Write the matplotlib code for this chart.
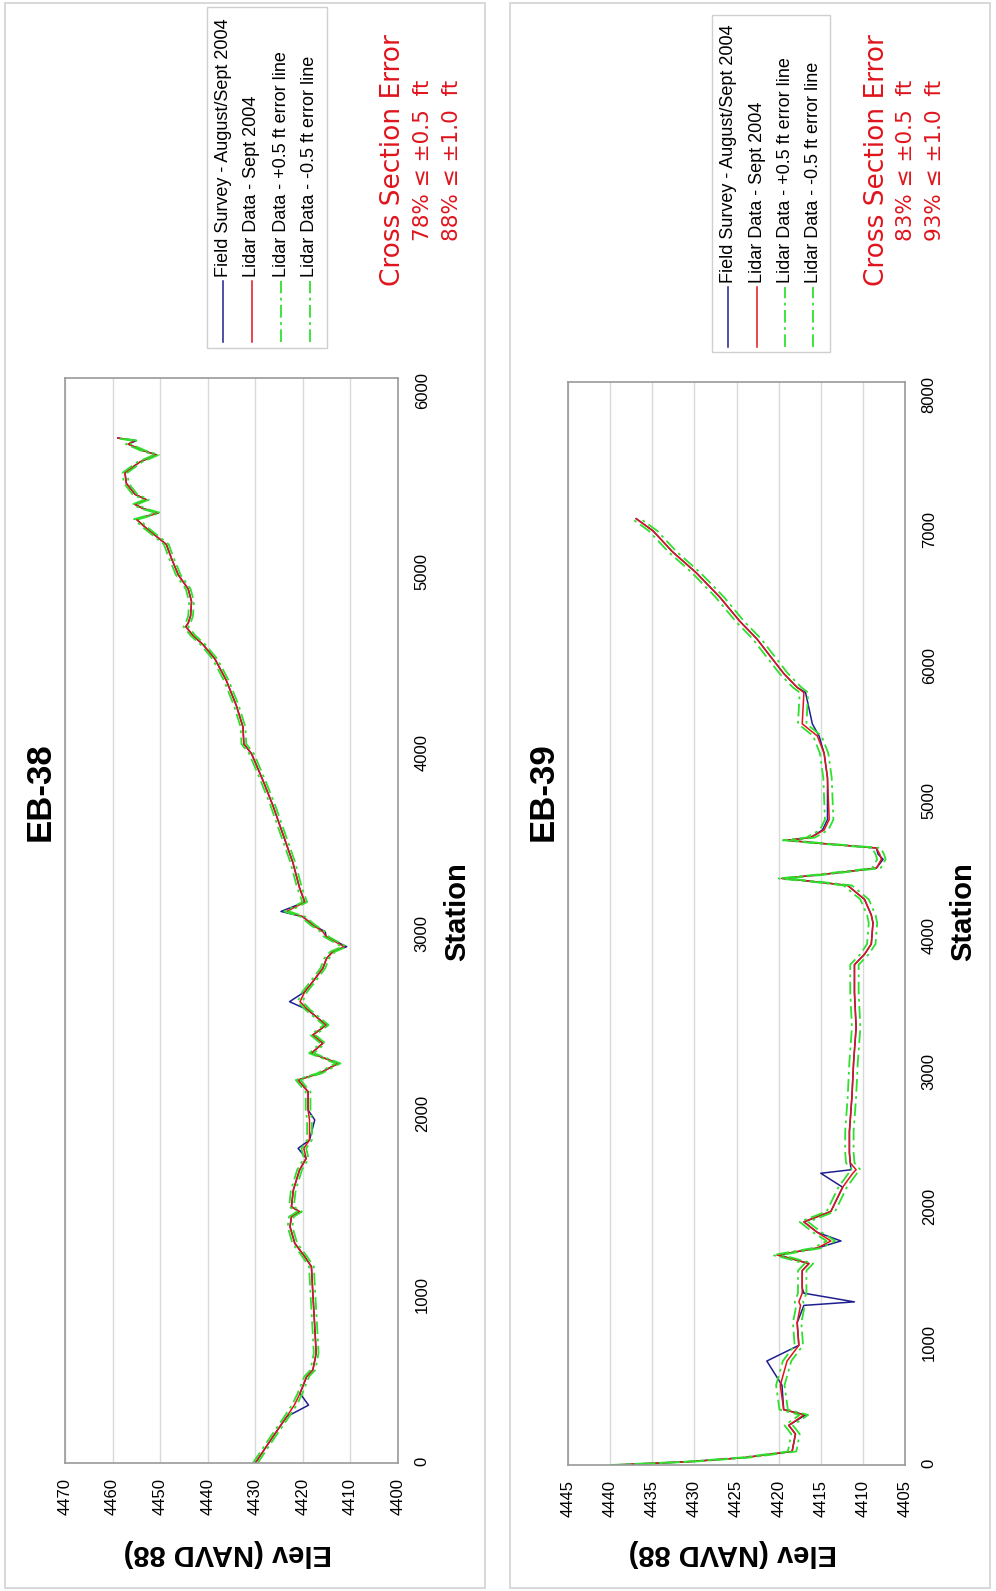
import numpy as np
import matplotlib
matplotlib.use('Agg')
import matplotlib.pyplot as plt
from matplotlib.patches import Rectangle
from matplotlib.lines import Line2D

plt.rcParams['font.family'] = ['Liberation Sans', 'DejaVu Sans']

# ---- data (station ft, elevation ft NAVD 88) ----
STATION_EB38 = [0, 145, 256, 320, 385, 478, 514, 607, 754, 938,
                1086, 1141, 1215, 1307, 1362, 1390, 1417, 1510, 1620, 1685,
                1740, 1786, 1897, 1952, 2053, 2118, 2155, 2210, 2266, 2321,
                2367, 2422, 2505, 2551, 2606, 2662, 2736, 2791, 2828, 2855,
                2911, 2938, 2975, 3021, 3050, 3102, 3181, 3320, 3478, 3636,
                3775, 3923, 3976, 4071, 4190, 4328, 4447, 4526, 4576, 4625,
                4645, 4685, 4764, 4833, 4912, 5001, 5080, 5169, 5219, 5254,
                5278, 5301, 5327, 5357, 5417, 5476, 5535, 5575, 5599, 5634,
                5654, 5668]
LIDAR_EB38 = [4430.0, 4426.3, 4423.4, 4421.8, 4420.6, 4419.2, 4417.9, 4417.2, 4417.5, 4417.9,
              4418.2, 4419.6, 4421.7, 4422.7, 4422.4, 4420.7, 4422.4, 4422.0, 4420.7, 4419.3,
              4419.8, 4418.6, 4418.6, 4418.9, 4418.9, 4421.0, 4416.5, 4412.6, 4418.2, 4415.8,
              4417.9, 4415.1, 4418.9, 4420.6, 4419.6, 4417.9, 4415.8, 4415.0, 4413.7, 4411.3,
              4415.1, 4415.8, 4417.9, 4420.0, 4423.4, 4419.6, 4420.7, 4422.1, 4424.2, 4426.3,
              4428.4, 4430.8, 4432.4, 4432.6, 4434.0, 4436.1, 4438.5, 4441.0, 4443.1, 4444.6,
              4444.1, 4443.6, 4443.4, 4444.1, 4446.2, 4447.6, 4448.7, 4452.9, 4455.0, 4450.4,
              4453.6, 4455.3, 4452.9, 4455.3, 4457.1, 4457.4, 4454.3, 4450.8, 4453.6, 4456.7,
              4455.5, 4458.9]
SURVEY_EB38 = [4430.0, 4426.3, 4423.4, 4418.8, 4420.6, 4419.2, 4417.9, 4417.2, 4417.5, 4417.9,
               4418.2, 4419.6, 4421.7, 4422.7, 4422.4, 4420.7, 4422.4, 4422.0, 4420.7, 4419.3,
               4421.0, 4418.6, 4417.5, 4418.9, 4418.9, 4421.0, 4416.5, 4412.6, 4418.2, 4415.8,
               4417.9, 4415.1, 4418.9, 4422.8, 4419.6, 4417.9, 4415.8, 4415.0, 4413.7, 4410.8,
               4415.1, 4415.3, 4417.9, 4420.0, 4424.6, 4419.6, 4420.7, 4422.1, 4424.2, 4426.3,
               4428.4, 4430.8, 4432.4, 4432.6, 4434.0, 4436.1, 4438.5, 4441.0, 4443.1, 4444.6,
               4444.1, 4443.6, 4443.4, 4444.1, 4446.2, 4447.6, 4448.7, 4452.9, 4455.0, 4450.4,
               4453.6, 4455.3, 4452.9, 4455.3, 4457.1, 4457.4, 4454.3, 4450.8, 4453.6, 4456.7,
               4455.0, 4458.9]

STATION_EB39 = [0, 25, 55, 100, 229, 293, 370, 409, 589, 768,
                884, 1051, 1179, 1205, 1269, 1308, 1436, 1488, 1526, 1551,
                1603, 1655, 1718, 1796, 1873, 1950, 2052, 2155, 2181, 2232,
                2309, 2463, 2720, 2977, 3233, 3490, 3696, 3773, 3849, 4004,
                4063, 4178, 4281, 4307, 4333, 4358, 4409, 4474, 4512, 4558,
                4594, 4615, 4635, 4691, 4768, 5077, 5257, 5385, 5475, 5706,
                5744, 5847, 5975, 6104, 6232, 6412, 6592, 6746, 6900, 6990]
LIDAR_EB39 = [4439.5, 4430.5, 4424.0, 4418.4, 4418.0, 4418.8, 4417.0, 4419.4, 4419.8, 4419.0,
              4417.6, 4417.8, 4417.4, 4417.6, 4417.2, 4417.2, 4417.2, 4416.4, 4418.6, 4420.2,
              4415.4, 4413.8, 4415.4, 4417.0, 4413.8, 4413.2, 4412.4, 4411.2, 4410.8, 4411.5,
              4411.6, 4411.6, 4411.3, 4411.1, 4410.8, 4411.0, 4411.0, 4409.8, 4409.0, 4408.8,
              4409.0, 4409.8, 4411.8, 4415.4, 4419.6, 4415.4, 4408.4, 4407.8, 4408.0, 4408.4,
              4415.4, 4419.0, 4416.2, 4414.6, 4414.0, 4414.2, 4414.6, 4415.4, 4417.2, 4417.0,
              4417.8, 4419.4, 4421.0, 4422.6, 4424.6, 4427.0, 4429.8, 4432.6, 4434.9, 4436.9]
SURVEY_EB39 = [4439.5, 4430.5, 4424.0, 4418.4, 4418.0, 4418.8, 4416.8, 4419.4, 4419.6, 4421.4,
               4417.6, 4417.8, 4417.0, 4411.0, 4417.0, 4417.2, 4417.2, 4416.4, 4418.6, 4420.0,
               4415.4, 4412.6, 4415.4, 4417.0, 4413.8, 4413.2, 4412.4, 4415.0, 4411.4, 4411.5,
               4411.6, 4411.6, 4411.3, 4411.1, 4410.8, 4411.0, 4411.0, 4409.8, 4409.0, 4408.8,
               4409.0, 4409.8, 4411.8, 4415.4, 4419.6, 4415.4, 4408.4, 4407.6, 4408.2, 4408.4,
               4415.4, 4419.0, 4416.2, 4414.8, 4414.2, 4414.2, 4414.6, 4415.2, 4416.0, 4416.8,
               4417.8, 4419.4, 4421.0, 4422.6, 4424.6, 4427.0, 4429.8, 4432.6, 4434.9, 4436.9]

ERROR_OFFSET = 0.5
LEGEND_LABELS = ['Field Survey - August/Sept 2004', 'Lidar Data - Sept 2004',
                 'Lidar Data - +0.5 ft error line', 'Lidar Data - -0.5 ft error line']
ERROR_TEXT_EB38 = ['Cross Section Error', '78% \u2264 \u00b10.5  ft', '88% \u2264 \u00b11.0  ft']
ERROR_TEXT_EB39 = ['Cross Section Error', '83% \u2264 \u00b10.5  ft', '93% \u2264 \u00b11.0  ft']

BLUE = '#1f1f8f'
RED = '#e0141c'
GREEN = '#2fe02f'
DASHDOT = (0, (7, 2.5, 1.5, 2.5))
STYLES = [dict(color=BLUE, lw=1.1, ls='-'),
          dict(color=RED, lw=1.1, ls='-'),
          dict(color=GREEN, lw=1.3, ls=DASHDOT),
          dict(color=GREEN, lw=1.3, ls=DASHDOT)]

W, H = 996, 1591
fig = plt.figure(figsize=(W / 100, H / 100), dpi=100)


def fx(px):
    return px / W


def fy(py):
    return 1 - py / H


def panel(x0, x1, ax_box, station, survey, lidar, elev_lim, elev_step, st_max,
          title, title_x, station_x, legend_box, legend_xs, line_y, err_xs, err_text):
    # panel frame
    fig.add_artist(Rectangle((fx(x0), fy(1588)), fx(x1 - x0), 1585 / H,
                             transform=fig.transFigure, fill=False,
                             ec='#d2d2d2', lw=1.2))
    left, top, right, bottom = ax_box
    ax = fig.add_axes([fx(left), fy(bottom), fx(right - left), (bottom - top) / H])
    lidar = np.array(lidar)
    series = [survey, lidar, lidar + ERROR_OFFSET, lidar - ERROR_OFFSET]
    for vals, st in zip(series, STYLES):
        ax.plot(vals, station, **st)
    ax.set_xlim(elev_lim[1], elev_lim[0])
    ax.set_ylim(0, st_max)
    ax.set_xticks(np.arange(elev_lim[0], elev_lim[1] + 1, elev_step))
    ax.set_yticks(np.arange(0, st_max + 1, 1000))
    ax.yaxis.tick_right()
    ax.tick_params(axis='x', length=0, pad=11, labelsize=12, labelrotation=90)
    ax.tick_params(axis='y', length=0, pad=12, labelsize=12, labelrotation=90)
    ax.grid(axis='x', color='#d9d9d9', lw=1)
    ax.set_axisbelow(True)
    for s in ax.spines.values():
        s.set_color('#9a9a9a')
        s.set_linewidth(1.2)

    cx = (left + right) / 2
    fig.text(fx(cx - 4), fy(1553), 'Elev (NAVD 88)', rotation=180, ha='center',
             va='center', fontsize=21, fontweight='bold')
    fig.text(fx(station_x), fy(912), 'Station', rotation=90, ha='center',
             va='center', fontsize=21, fontweight='bold')
    fig.text(fx(title_x), fy(792), title, rotation=90, ha='center',
             va='center', fontsize=25, fontweight='bold')

    # legend (rotated with the page)
    lx0, ly0, lx1, ly1 = legend_box
    fig.add_artist(Rectangle((fx(lx0), fy(ly1)), fx(lx1 - lx0), (ly1 - ly0) / H,
                             transform=fig.transFigure, fc='white',
                             ec='#cfcfcf', lw=1))
    for xx, lab, st in zip(legend_xs, LEGEND_LABELS, STYLES):
        fig.add_artist(Line2D([fx(xx), fx(xx)], [fy(line_y[1]), fy(line_y[0])],
                              transform=fig.transFigure, **st))
        fig.text(fx(xx), fy(line_y[0] - 4), lab, rotation=90, ha='center',
                 va='bottom', fontsize=13)

    for xx, txt, size in zip(err_xs, err_text, [19, 15.5, 15.5]):
        fig.text(fx(xx), fy(160), txt, rotation=90, ha='center', va='center',
                 fontsize=size, color=RED, family='DejaVu Sans')


panel(5, 485, (65, 378, 398, 1463), STATION_EB38, SURVEY_EB38, LIDAR_EB38,
      (4400, 4470), 10, 6000, 'EB-38', 40, 457,
      (207, 7, 327, 348), [223, 252, 281, 310], (281, 342), [393, 423, 452],
      ERROR_TEXT_EB38)
panel(510, 990, (568, 382, 905, 1465), STATION_EB39, SURVEY_EB39, LIDAR_EB39,
      (4405, 4445), 5, 8000, 'EB-39', 543, 963,
      (712, 15, 830, 352), [728, 757, 785, 813], (287, 347), [877, 906, 935],
      ERROR_TEXT_EB39)

fig.savefig('out.png', dpi=100)
